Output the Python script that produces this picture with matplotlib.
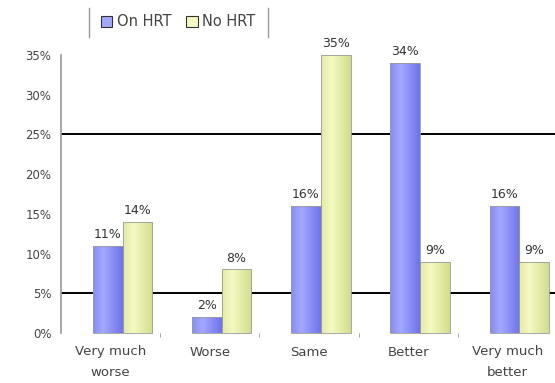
import numpy as np
import matplotlib.pyplot as plt
from matplotlib.patches import Patch
from matplotlib.lines import Line2D

categories = ['Very much\nworse', 'Worse', 'Same', 'Better', 'Very much\nbetter']
on_hrt = [11, 2, 16, 34, 16]
no_hrt = [14, 8, 35, 9, 9]
series_names = ['On HRT', 'No HRT']
yticks = [0, 5, 10, 15, 20, 25, 30, 35]

W, H = 555, 383
fig = plt.figure(figsize=(W / 100, H / 100), dpi=100)
ax = fig.add_axes([61 / W, (H - 333) / H, (W - 61) / W, 278 / H])

x = np.arange(len(categories))
bw = 0.30
shift = 0.12


def shaded_bar(ax, xc, h, dark, light):
    # cylinder-like shading: light in the middle-left, darker at the right
    x0, x1 = xc - bw / 2, xc + bw / 2
    grad = np.linspace(0, 1, 64)
    prof = np.clip(1 - np.abs(grad - 0.35) * 1.6, 0, 1)
    c0, c1 = np.array(dark), np.array(light)
    img = c0[None, :] + (c1 - c0)[None, :] * prof[:, None]
    im = ax.imshow(img[None, :, :], extent=[x0, x1, 0, h], aspect='auto',
                   zorder=3, interpolation='bilinear')
    rect = plt.Rectangle((x0, 0), bw, h, facecolor='none', edgecolor='#9a9a9a',
                         linewidth=0.6, zorder=4, clip_on=False)
    ax.add_patch(rect)
    im.set_clip_path(rect)
    im.set_clip_on(True)


blue_dark, blue_light = (0.44, 0.46, 0.92), (0.64, 0.66, 1.0)
green_dark, green_light = (0.83, 0.87, 0.56), (0.96, 0.98, 0.76)

for i in range(len(categories)):
    xo = x[i] + shift - bw / 2
    xn = x[i] + shift + bw / 2
    shaded_bar(ax, xo, on_hrt[i], blue_dark, blue_light)
    shaded_bar(ax, xn, no_hrt[i], green_dark, green_light)
    ax.text(xo, on_hrt[i] + 0.6, f'{on_hrt[i]}%', ha='center', va='bottom',
            fontsize=9, color='#333333', zorder=5, clip_on=False)
    ax.text(xn, no_hrt[i] + 0.6, f'{no_hrt[i]}%', ha='center', va='bottom',
            fontsize=9, color='#333333', zorder=5, clip_on=False)

for g in [5, 25]:
    ax.axhline(g, color='black', linewidth=1.4, zorder=2)

ax.set_xlim(-0.5, -0.5 + (W - 61) / 99.2)
ax.set_ylim(0, 35)
ax.set_yticks(yticks)
ax.set_yticklabels([f'{t}%' for t in yticks], fontsize=8.5, color='#444444')
ax.set_xticks(x)
ax.set_xticklabels(categories, fontsize=9.5, color='#444444', linespacing=1.7)
ax.set_xticks(x[:-1] + 0.5, minor=True)
ax.tick_params(axis='x', which='major', length=0, pad=9)
ax.tick_params(axis='x', which='minor', length=3, color='#999999')
ax.tick_params(axis='y', length=0, pad=7)

for s in ['top', 'right', 'bottom']:
    ax.spines[s].set_visible(False)
ax.spines['left'].set_color('#999999')
ax.spines['left'].set_linewidth(1.2)

handles = [Patch(facecolor=blue_light, edgecolor='#333333', linewidth=0.8),
           Patch(facecolor=green_light, edgecolor='#333333', linewidth=0.8)]
leg = fig.legend(handles, series_names, loc='center', bbox_to_anchor=(178 / W, 1 - 22 / H),
                 ncol=2, fontsize=10.5, frameon=False, handlelength=0.8, handleheight=0.8,
                 handletextpad=0.3, columnspacing=1.0, borderpad=0.3)
for t in leg.get_texts():
    t.set_color('#444444')

# legend box shows only its left and right edges
for px in (89, 268):
    fig.add_artist(Line2D([px / W, px / W], [1 - 8 / H, 1 - 37 / H],
                          color='#999999', linewidth=1.0))

fig.savefig('out.png', dpi=100)
